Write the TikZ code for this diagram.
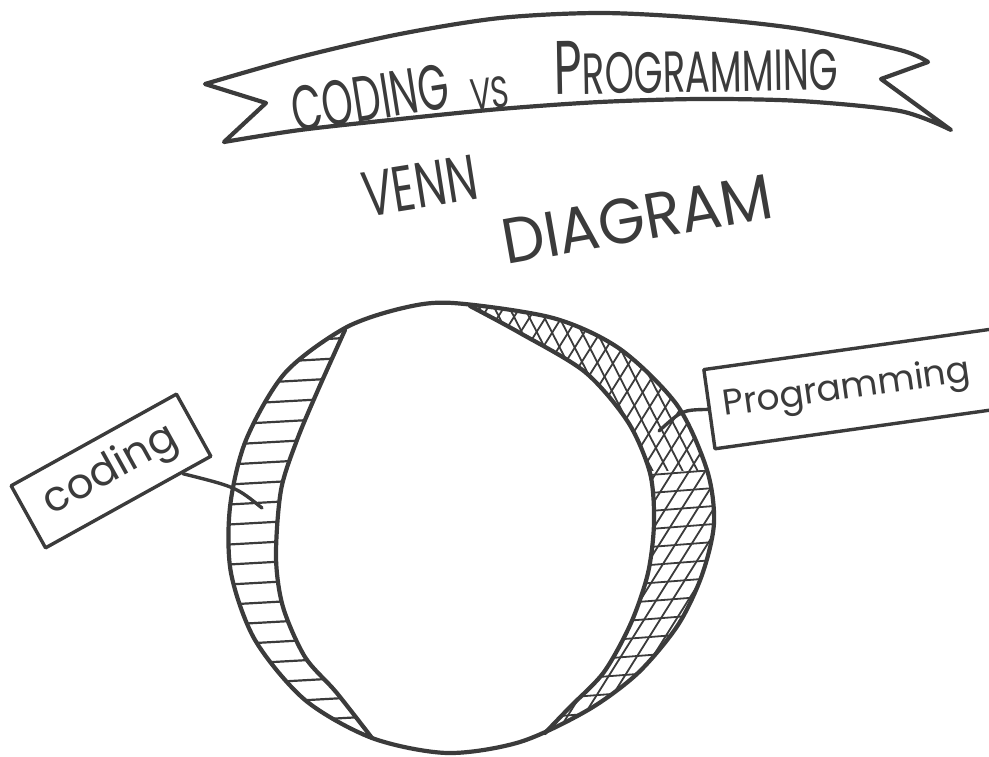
\documentclass[tikz,border=0pt]{standalone}
\usepackage{fontspec}
\setmainfont{Poppins}
\usetikzlibrary{calc}
\definecolor{ink}{HTML}{3B3B3B}
\tikzset{
	pen/.style={draw=ink, line width=4.2pt, line join=round, line cap=round},
	labelbox/.style={pen, line width=3.4pt, inner sep=0pt, text=ink},
	lettering/.style={text=ink, inner sep=0pt},
	connector/.style={draw=ink, line width=3.4pt, line cap=round},
	hatch/.style={draw=ink, line width=2.2pt, line cap=round}
}

\begin{document}
\begin{tikzpicture}[x=1pt, y=-1pt]
	\useasboundingbox (0,0) rectangle (989,757);
	\clip (0,0) rectangle (989,757);

	\draw[pen] (205,84) -- (266,103) -- (224,142)
		-- plot[smooth] coordinates {(224,142) (300,130) (400,119) (500,109) (600,102) (700,99) (800,101) (900,111) (951,130)}
		-- (881,79) -- (928,62)
		-- plot[smooth] coordinates {(928,62) (900,50) (800,29) (700,18) (600,13) (500,18) (400,34) (300,57) (205,84)} -- cycle;

	\node[lettering, rotate=9] (coding) at (370,98) {\scalebox{0.62}[1]{\fontsize{64}{64}\selectfont CODING}};
	\node[lettering, rotate=6] (vs) at (490,93) {\scalebox{0.7}[1]{\fontsize{44}{44}\selectfont VS}};
	\node[lettering, rotate=1] (programming) at (696,66) {\scalebox{0.64}[1]{{\fontsize{76}{76}\selectfont P}{\fontsize{58}{58}\selectfont ROGRAMMING}}};

	\node[lettering, rotate=9] (venn) at (420,186) {\scalebox{0.7}[1]{\fontsize{64}{64}\selectfont VENN}};
	\node[lettering, rotate=10] (diagram) at (637,219) {\scalebox{0.94}[1]{\fontsize{64}{64}\selectfont DIAGRAM}};

	\begin{scope}
		\clip plot[smooth cycle] coordinates {(453,303) (553,318) (620,349) (677,405) (707,470) (714,523) (702,575) (678,625) (638,673) (588,710) (520,742) (447,753) (372,738) (305,700) (255,640) (231,573) (230,507) (246,440) (285,373) (345,328) (403,308)};
		\begin{scope}
			\clip plot[smooth] coordinates {(345,330) (318,390) (297,440) (281,490) (276,557) (283,607) (305,657) (336,692) (372,738)} -- (372,800) -- (150,800) -- (150,250) -- (345,250) -- cycle;
			\foreach \y in {320,340,...,760}
				\draw[hatch] (220,\y+5) -- (380,\y-4);
		\end{scope}
		\begin{scope}
			\clip plot[smooth] coordinates {(470,306) (520,333) (585,372) (628,422) (650,473) (654,523) (648,573) (631,623) (604,672) (570,707) (545,733)} -- (545,800) -- (800,800) -- (800,250) -- (470,250) -- cycle;
			\foreach \x in {460,476,...,1200}
				\draw[hatch, line width=1.8pt] (\x,250) -- (\x-320,760);
			\begin{scope}
				\clip (400,250) rectangle (800,470);
				\foreach \x in {300,315,...,760}
					\draw[hatch, line width=1.8pt] (\x,250) -- (\x+260,760);
			\end{scope}
			\begin{scope}
				\clip (400,470) rectangle (800,760);
				\foreach \y in {474,492,...,760}
					\draw[hatch, line width=1.8pt] (560,\y+8) -- (740,\y-6);
			\end{scope}
		\end{scope}
	\end{scope}
	\draw[pen] plot[smooth cycle] coordinates {(453,303) (553,318) (620,349) (677,405) (707,470) (714,523) (702,575) (678,625) (638,673) (588,710) (520,742) (447,753) (372,738) (305,700) (255,640) (231,573) (230,507) (246,440) (285,373) (345,328) (403,308)};
	\draw[pen] plot[smooth] coordinates {(345,330) (318,390) (297,440) (281,490) (276,557) (283,607) (305,657) (336,692) (372,738)};
	\draw[pen] plot[smooth] coordinates {(470,306) (520,333) (585,372) (628,422) (650,473) (654,523) (648,573) (631,623) (604,672) (570,707) (545,733)};

	\node[labelbox, rotate=29, minimum width=189pt, minimum height=71pt, font=\fontsize{42}{42}\selectfont] (codingbox) at (111,471) {coding};
	\node[labelbox, rotate=8, text width=262pt, inner xsep=14pt, minimum height=80pt, font=\fontsize{36}{36}\selectfont] (progbox) at (853,389) {Programming};

	\coordinate (codingtip) at (262,508);
	\coordinate (progtip) at (659,431);
	\draw[connector] ($(codingbox.south west)!0.82!(codingbox.south east)$) .. controls (236,487) .. (codingtip);
	\draw[connector] (progbox.west) .. controls (682,410) .. (progtip);
\end{tikzpicture}
\end{document}
